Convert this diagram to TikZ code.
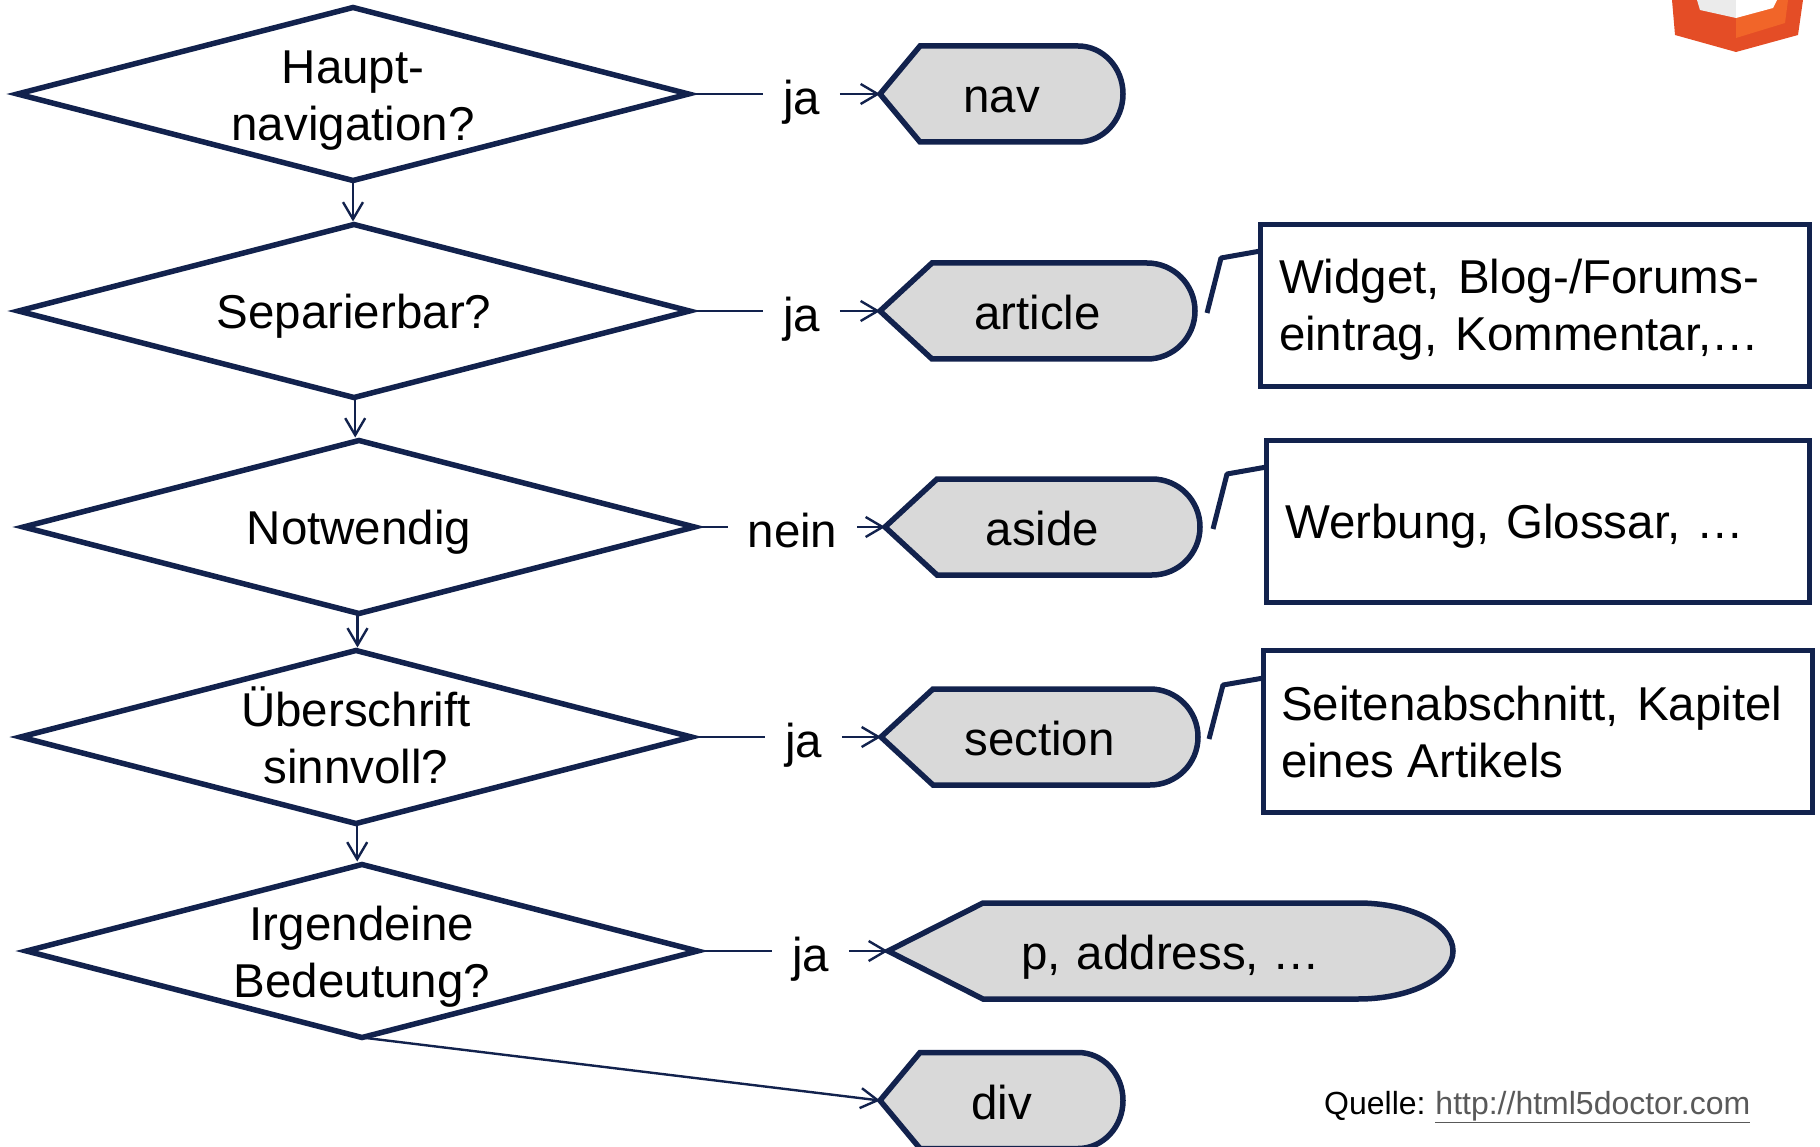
\documentclass[tikz,border=0pt]{standalone}
\usepackage{fontspec}
\setmainfont{Liberation Sans}
\usetikzlibrary{shapes.geometric,arrows.meta}
\definecolor{navy}{HTML}{12224D}
\definecolor{shapegray}{HTML}{D9D9D9}
\definecolor{linkgray}{HTML}{595959}
\makeatletter
\newdimen\dispXa \newdimen\dispXb \newdimen\dispXc \newdimen\dispXd \newdimen\dispXe
\newdimen\dispYa \newdimen\dispYb \newdimen\dispYc \newdimen\dispYd \newdimen\dispYe
\pgfdeclareshape{dispshape}{
  \inheritsavedanchors[from=rectangle]
  \inheritanchorborder[from=rectangle]
  \inheritanchor[from=rectangle]{center}
  \inheritanchor[from=rectangle]{north}
  \inheritanchor[from=rectangle]{south}
  \inheritanchor[from=rectangle]{east}
  \inheritanchor[from=rectangle]{west}
  \backgroundpath{
    \southwest \dispXa=\pgf@x \dispYa=\pgf@y
    \northeast \dispXb=\pgf@x \dispYb=\pgf@y
    \dispYc=.5\dispYa \advance\dispYc by .5\dispYb
    \dispXc=\dispXb \advance\dispXc by -\disprad
    \dispXd=\dispXa \advance\dispXd by \disptip
    \dispXe=\disprad \dispXe=.5523\dispXe \advance\dispXe by \dispXc
    \dispYd=\dispYb \advance\dispYd by -\dispYc \dispYd=.5523\dispYd
    \dispYe=\dispYc \advance\dispYe by -\dispYd
    \advance\dispYd by \dispYc
    \pgfpathmoveto{\pgfqpoint{\dispXa}{\dispYc}}
    \pgfpathlineto{\pgfqpoint{\dispXd}{\dispYb}}
    \pgfpathlineto{\pgfqpoint{\dispXc}{\dispYb}}
    \pgfpathcurveto{\pgfqpoint{\dispXe}{\dispYb}}{\pgfqpoint{\dispXb}{\dispYd}}{\pgfqpoint{\dispXb}{\dispYc}}
    \pgfpathcurveto{\pgfqpoint{\dispXb}{\dispYe}}{\pgfqpoint{\dispXe}{\dispYa}}{\pgfqpoint{\dispXc}{\dispYa}}
    \pgfpathlineto{\pgfqpoint{\dispXd}{\dispYa}}
    \pgfpathclose
  }
}
\makeatother
\newcommand{\dtext}[1]{\smash{\makebox[0pt]{\raisebox{-12.5pt}{\begin{tabular}{@{}c@{}}#1\end{tabular}}}}}
\newcommand{\ntext}[3]{\makebox[#1][l]{\smash{\raisebox{#2}{\begin{tabular}{@{}l@{}}#3\end{tabular}}}}}
\tikzset{
  tip len/.store in=\disptip, arc len/.store in=\disprad,
  tip len=52pt, arc len=48pt,
  big/.style={font=\fontsize{47.5}{57}\selectfont},
  thickline/.style={draw=navy,line width=5.5pt},
  thinline/.style={draw=navy,line width=2.4pt},
  arrowline/.style={thinline,-{Straight Barb[length=17pt,width=20pt,line width=2.4pt]}},
  decision/.style={shape=diamond,thickline,big,fill=white,inner sep=0pt,outer sep=0pt,line join=miter,
     minimum width=671pt,minimum height=173pt},
  terminal/.style={shape=dispshape,thickline,fill=shapegray,big,inner sep=0pt,outer sep=0pt,
     minimum height=96pt,text height=37pt,text depth=0pt,line join=miter},
  answer/.style={big,inner xsep=20pt,inner ysep=0pt,outer sep=0pt,text height=41pt,text depth=0pt},
  notebox/.style={draw=navy,line width=5pt,fill=white,big,inner sep=0pt,outer sep=0pt,minimum height=162pt,line join=miter},
  leader/.style={draw=navy,line width=5pt,line join=round},
}
\begin{document}
\begin{tikzpicture}[x=1pt,y=-1pt]
\useasboundingbox (0,0) rectangle (1820,1147);
% logo
\fill[color={rgb,255:red,228;green,77;blue,38}] (1672,0) -- (1675,35) -- (1736,52) -- (1798,35) -- (1803,0) -- cycle;
\fill[color={rgb,255:red,241;green,101;blue,41}] (1736,0) -- (1788,0) -- (1785,23) -- (1736,38) -- cycle;
\fill[color={rgb,255:red,235;green,235;blue,235}] (1697,0) -- (1700,10) -- (1736,18) -- (1736,0) -- cycle;
\fill[white] (1736,0) -- (1736,18) -- (1773,8) -- (1777,0) -- cycle;
% decisions
\node[decision] (d1) at (353,94) {\dtext{Haupt-\\navigation?}};
\node[decision] (d2) at (354,311) {\dtext{Separierbar?}};
\node[decision] (d3) at (359,527) {\dtext{Notwendig}};
\node[decision] (d4) at (356,737) {\dtext{Überschrift\\sinnvoll?}};
\node[decision] (d5) at (362,951) {\dtext{Irgendeine\\Bedeutung?}};
% terminals
\node[terminal,minimum width=243pt,tip len=40pt,arc len=45pt] (nav) at (1001.5,94) {nav};
\node[terminal,minimum width=315pt] (article) at (1037.5,311) {article};
\node[terminal,minimum width=315pt] (aside) at (1042.5,527) {aside};
\node[terminal,minimum width=317pt] (section) at (1039.5,737) {section};
\node[terminal,minimum width=565pt,tip len=95pt,arc len=95pt] (paddr) at (1170.5,951) {p,\kern3pt{} address, …};
\node[terminal,minimum width=243pt,tip len=40pt,arc len=45pt] (div) at (1001.5,1100.5) {div};
% answers
\node[answer] (a1) at (801.5,94) {ja};
\node[answer] (a2) at (801.5,311) {ja};
\node[answer] (a3) at (792.5,527) {nein};
\node[answer] (a4) at (803.5,737) {ja};
\node[answer] (a5) at (810.5,951) {ja};
% notes
\node[notebox,minimum width=549pt] (b1) at (1535,305.5) {\ntext{512pt}{-11.7pt}{Widget,\kern5pt{} Blog-/Forums-\\eintrag,\kern5pt{} Kommentar,…}};
\node[notebox,minimum width=543pt] (b2) at (1538,521) {\ntext{506pt}{-12.5pt}{Werbung,\kern3pt{} Glossar,\kern3pt{} …}};
\node[notebox,minimum width=549pt] (b3) at (1538,731) {\ntext{514pt}{-13.3pt}{Seitenabschnitt,\kern5pt{} Kapitel\\eines Artikels}};
% source
\node[anchor=base west,font=\fontsize{32}{38}\selectfont,inner sep=0pt] (src) at (1324,1114) {Quelle:\kern-2pt{} \textcolor{linkgray}{\underline{http://html5doctor.com}}};
% connectors
\draw[arrowline,shorten >=3pt] (d1.south) -- (d1.south |- d2.north);
\draw[arrowline,shorten >=3pt] ([xshift=1.2pt]d2.south) -- ([xshift=1.2pt]d2.south |- d3.north);
\draw[arrowline,shorten >=3pt] ([xshift=-1.5pt]d3.south) -- ([xshift=-1.5pt]d3.south |- d4.north);
\draw[arrowline,shorten >=3pt] ([xshift=1.2pt]d4.south) -- ([xshift=1.2pt]d4.south |- d5.north);
\foreach \d/\a/\t in {d1/a1/nav,d2/a2/article,d3/a3/aside,d4/a4/section,d5/a5/paddr}{
  \draw[thinline] (\d.east) -- (\a.west);
  \draw[arrowline] (\a.east) -- (\t.west);
}
\draw[arrowline] (d5.south) -- (div.west);
% callout leaders
\coordinate (l1a) at (1207,313);
\coordinate (l1b) at (1221,258);
\coordinate (l1c) at (1259,251);
\coordinate (l2a) at (1213,529);
\coordinate (l2b) at (1227,474);
\coordinate (l2c) at (1265,467);
\coordinate (l3a) at (1209,739);
\coordinate (l3b) at (1223,685);
\coordinate (l3c) at (1262,678);
\draw[leader] (l1a) -- (l1b) -- (l1c -| b1.west);
\draw[leader] (l2a) -- (l2b) -- (l2c -| b2.west);
\draw[leader] (l3a) -- (l3b) -- (l3c -| b3.west);
\end{tikzpicture}
\end{document}
